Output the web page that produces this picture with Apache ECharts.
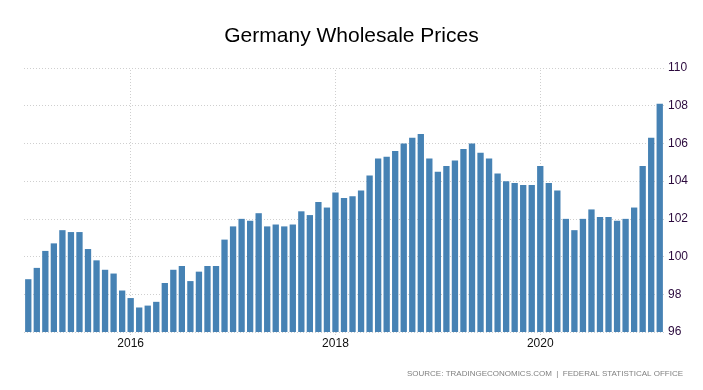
<!DOCTYPE html>
<html>
<head>
<meta charset="utf-8">
<script src="https://cdn.jsdelivr.net/npm/echarts@6/dist/echarts.min.js"></script>
<style>
html,body{margin:0;padding:0;background:#fff;}
#chart{width:703px;height:390px;}
</style>
</head>
<body>
<div id="chart"></div>
<script>
// Monthly categories Jan 2015 .. Mar 2021
const startYear = 2015;
const monthCount = 75;
const categories = [];
for (let i = 0; i < monthCount; i++) {
  const y = startYear + Math.floor(i / 12);
  const m = (i % 12) + 1;
  categories.push(y + '-' + (m < 10 ? '0' + m : m));
}

const values = [
  98.8, 99.4, 100.3, 100.7, 101.4, 101.3, 101.3, 100.4, 99.8, 99.3, 99.1, 98.2,
  97.8, 97.3, 97.4, 97.6, 98.6, 99.3, 99.5, 98.7, 99.2, 99.5, 99.5, 100.9,
  101.6, 102.0, 101.9, 102.3, 101.6, 101.7, 101.6, 101.7, 102.4, 102.2, 102.9, 102.6,
  103.4, 103.1, 103.2, 103.5, 104.3, 105.2, 105.3, 105.6, 106.0, 106.3, 106.5, 105.2,
  104.5, 104.8, 105.1, 105.7, 106.0, 105.5, 105.2, 104.4, 104.0, 103.9, 103.8, 103.8,
  104.8, 103.9, 103.5, 102.0, 101.4, 102.0, 102.5, 102.1, 102.1, 101.9, 102.0, 102.6,
  104.8, 106.3, 108.1
];

const yearTicks = ['2016-01', '2018-01', '2020-01'];
const yMin = 96, yMax = 110, yStep = 2;

const chart = echarts.init(document.getElementById('chart'), null, {renderer: 'canvas'});
chart.setOption({
  animation: false,
  backgroundColor: '#ffffff',
  title: {
    text: 'Germany Wholesale Prices',
    left: 'center',
    top: 21,
    textStyle: {fontFamily: 'Liberation Sans', fontSize: 21, fontWeight: 'normal', color: '#000'}
  },
  grid: {left: 24, right: 39, top: 68, bottom: 58},
  xAxis: {
    type: 'category',
    data: categories,
    boundaryGap: true,
    axisLine: {show: false},
    axisTick: {
      show: true,
      alignWithLabel: true,
      length: 4,
      interval: function (idx, val) { return yearTicks.indexOf(val) >= 0; },
      lineStyle: {color: '#cccccc', type: 'dotted'}
    },
    axisLabel: {
      interval: function (idx, val) { return yearTicks.indexOf(val) >= 0; },
      formatter: function (val) { return val.slice(0, 4); },
      fontFamily: 'Liberation Sans',
      fontSize: 12,
      color: '#111',
      margin: 6
    },
    splitLine: {show: false}
  },
  yAxis: {
    type: 'value',
    position: 'right',
    min: yMin,
    max: yMax,
    interval: yStep,
    axisLine: {show: false},
    axisTick: {show: false},
    axisLabel: {fontFamily: 'Liberation Sans', fontSize: 12, color: '#2b0a3d', margin: 4},
    splitLine: {show: true, lineStyle: {color: '#cfcfcf', type: [1, 2], width: 1}}
  },
  series: [{
    type: 'bar',
    data: values,
    barWidth: '74%',
    itemStyle: {color: '#4682b4'},
    markLine: {
      silent: true,
      symbol: ['none', 'none'],
      label: {show: false},
      lineStyle: {color: '#cfcfcf', type: [1, 2], width: 1},
      z: 0,
      data: yearTicks.map(function (t) { return {xAxis: t}; })
    },
    z: 2
  }],
  graphic: [{
    type: 'text',
    right: 20,
    top: 370,
    style: {
      text: 'SOURCE: TRADINGECONOMICS.COM  |  FEDERAL STATISTICAL OFFICE',
      font: '8px "Liberation Sans"',
      fill: '#808080'
    }
  }]
});
</script>
</body>
</html>
